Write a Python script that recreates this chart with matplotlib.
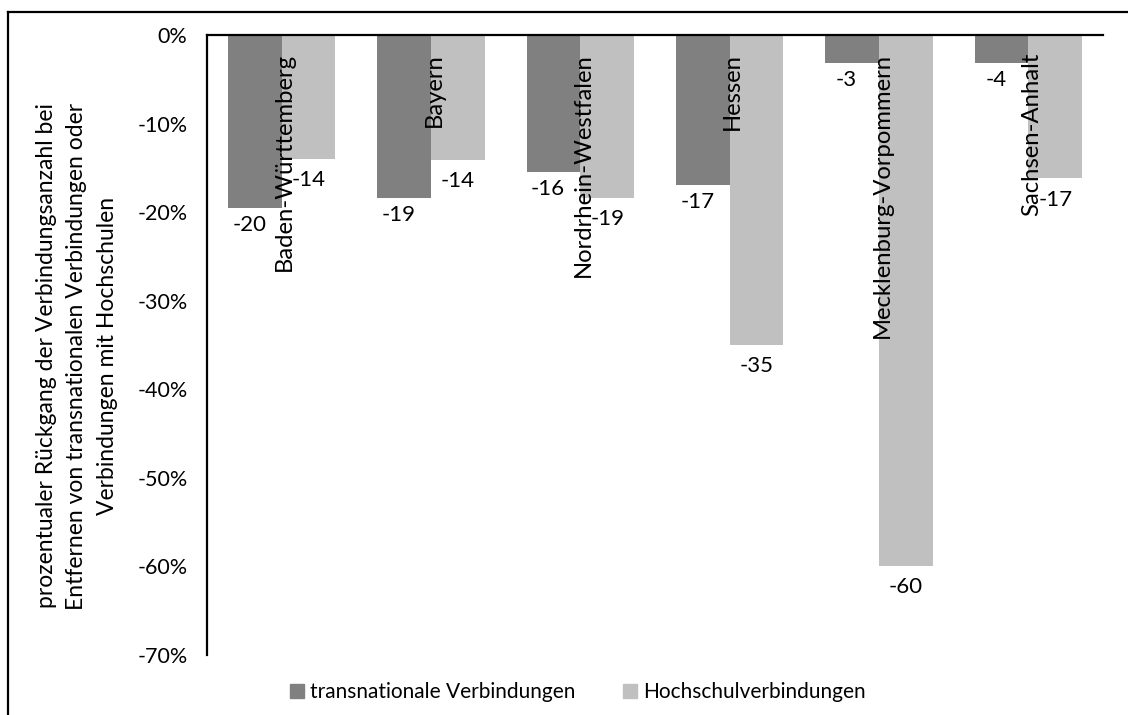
import numpy as np
import matplotlib
matplotlib.use("Agg")
import matplotlib.pyplot as plt
from matplotlib.lines import Line2D
from matplotlib.patches import Patch

plt.rcParams['font.family'] = ['Lato', 'DejaVu Sans']

# data
states = ['Baden-Württemberg', 'Bayern', 'Nordrhein-Westfalen', 'Hessen',
          'Mecklenburg-Vorpommern', 'Sachsen-Anhalt']
transnational = [-19.5, -18.4, -15.5, -16.9, -3.2, -3.2]
hochschul = [-14.0, -14.1, -18.4, -35.0, -59.9, -16.2]
trans_labels = ['-20', '-19', '-16', '-17', '-3', '-4']
hoch_labels = ['-14', '-14', '-19', '-35', '-60', '-17']
yticks = [0, -10, -20, -30, -40, -50, -60, -70]

dark = '#808080'
light = '#c0c0c0'

fig = plt.figure(figsize=(11.28, 7.15), dpi=100)
ax = fig.add_axes([207 / 1128, 1 - 655 / 715, (1103 - 207) / 1128, (655 - 35) / 715])

x = np.arange(len(states))
w = 0.36
ax.bar(x - w / 2, transnational, w, color=dark)
ax.bar(x + w / 2, hochschul, w, color=light)

for i in range(len(states)):
    ax.annotate(trans_labels[i], (x[i] - w / 2, transnational[i]), xytext=(-4, -5),
                textcoords='offset points', ha='center', va='top', fontsize=16)
    ax.annotate(hoch_labels[i], (x[i] + w / 2, hochschul[i]), xytext=(0, -8),
                textcoords='offset points', ha='center', va='top', fontsize=16)
    ax.text(x[i] + 0.02, -2.0, states[i], rotation=90, ha='center', va='top', fontsize=17.2)

ax.set_xlim(-0.5, len(states) - 0.5)
ax.set_ylim(-70, 0)
ax.set_yticks(yticks)
ax.set_yticklabels([f'{t}%' for t in yticks], fontsize=15.5)
ax.tick_params(axis='y', length=0, pad=14)
ax.set_xticks([])
for s in ['bottom', 'right']:
    ax.spines[s].set_visible(False)
for s in ['left', 'top']:
    ax.spines[s].set_linewidth(1.6)
    ax.spines[s].set_color('black')

fig.text(77 / 1128, 1 - 356 / 715,
         'prozentualer Rückgang der Verbindungsanzahl bei\n'
         'Entfernen von transnationalen Verbindungen oder\n'
         'Verbindungen mit Hochschulen',
         rotation=90, ha='center', va='center', multialignment='center',
         fontsize=16.5, linespacing=1.55)

handles = [Patch(color=dark), Patch(color=light)]
fig.legend(handles, ['transnationale Verbindungen', 'Hochschulverbindungen'],
           loc='center', bbox_to_anchor=(578 / 1128, 1 - 692 / 715), ncol=2,
           frameon=False, fontsize=15, handlelength=0.67, handleheight=0.67,
           handletextpad=0.3, columnspacing=2.3)

# outer chart border (only left and top visible in the crop)
fig.add_artist(Line2D([8 / 1128, 8 / 1128], [0, 1 - 12 / 715], color='black', lw=1.6))
fig.add_artist(Line2D([8 / 1128, 1], [1 - 12 / 715, 1 - 12 / 715], color='black', lw=1.6))

fig.savefig('out.png', dpi=100)
